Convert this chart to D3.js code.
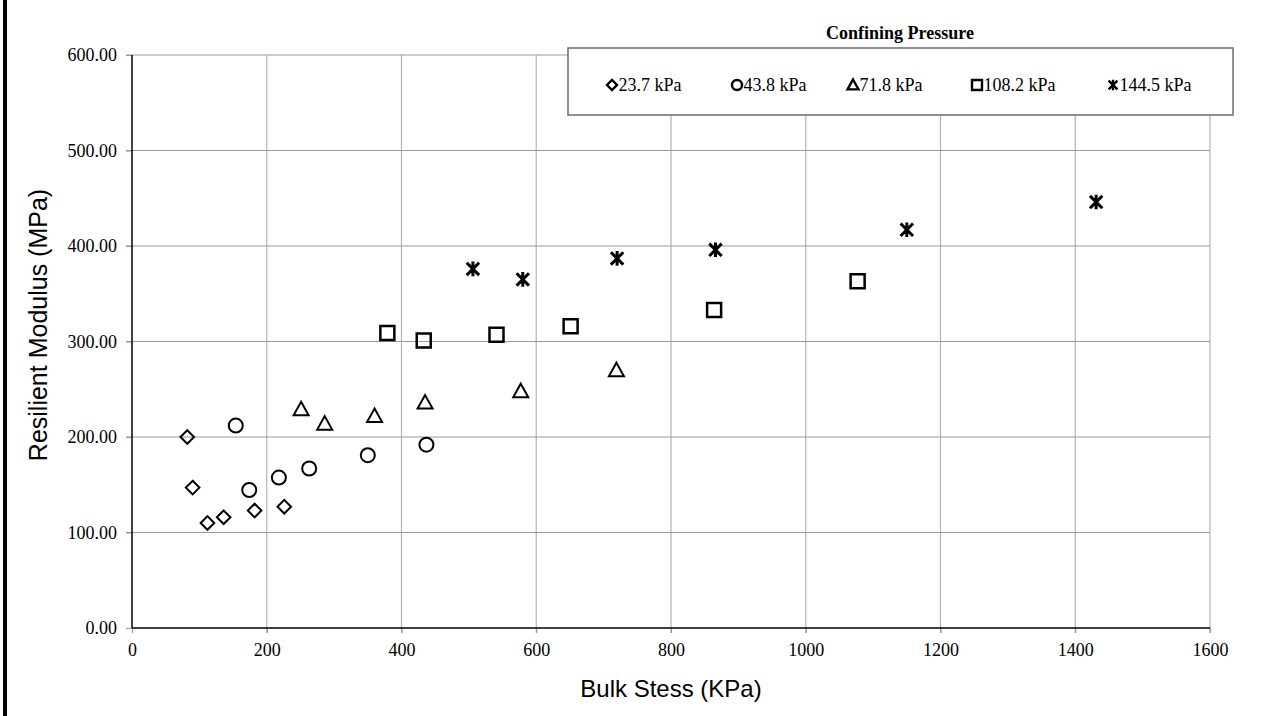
<!DOCTYPE html>
<html>
<head>
<meta charset="utf-8">
<script src="https://cdn.jsdelivr.net/npm/d3@7/dist/d3.min.js"></script>
<style>
  html, body { margin: 0; padding: 0; background: #fff; }
  svg { display: block; }
</style>
</head>
<body>
<svg id="chart" width="1264" height="716"></svg>
<script>
// ---- data ----
const seriesNames = ["23.7 kPa", "43.8 kPa", "71.8 kPa", "108.2 kPa", "144.5 kPa"];
const markerTypes = ["diamond", "circle", "triangle", "square", "star"];
const bulk_23_7 = [82, 90, 112, 136, 182, 226];
const mr_23_7   = [200, 147, 110, 116, 123, 127];
const bulk_43_8 = [154, 174, 218, 263, 350, 437];
const mr_43_8   = [212, 144.5, 157.5, 167, 181, 192];
const bulk_71_8 = [251, 286, 360, 435, 577, 719];
const mr_71_8   = [229, 214, 222, 236, 248, 270];
const bulk_108_2 = [379, 433, 541, 651, 864, 1077];
const mr_108_2   = [309, 301, 307, 316, 333, 363];
const bulk_144_5 = [506, 580, 720, 866, 1150, 1431];
const mr_144_5   = [376, 365, 387, 396, 417, 446];
const xTicks = [0, 200, 400, 600, 800, 1000, 1200, 1400, 1600];
const yTicks = [0, 100, 200, 300, 400, 500, 600];

const series = [
  { name: seriesNames[0], type: markerTypes[0], x: bulk_23_7, y: mr_23_7 },
  { name: seriesNames[1], type: markerTypes[1], x: bulk_43_8, y: mr_43_8 },
  { name: seriesNames[2], type: markerTypes[2], x: bulk_71_8, y: mr_71_8 },
  { name: seriesNames[3], type: markerTypes[3], x: bulk_108_2, y: mr_108_2 },
  { name: seriesNames[4], type: markerTypes[4], x: bulk_144_5, y: mr_144_5 }
];

// ---- layout ----
const L = 132, R = 1210, T = 55, B = 628;
const svg = d3.select("#chart");
const x = d3.scaleLinear().domain([0, 1600]).range([L, R]);
const y = d3.scaleLinear().domain([0, 600]).range([B, T]);
const serif = "'Liberation Serif', 'Times New Roman', serif";
const sans = "'Liberation Sans', Arial, sans-serif";

// left black bar
svg.append("rect").attr("x", 3).attr("y", 0).attr("width", 4).attr("height", 716).attr("fill", "#000");

// gridlines
const grid = svg.append("g");
grid.selectAll("line.v").data(xTicks.slice(1)).join("line")
  .attr("x1", d => x(d)).attr("x2", d => x(d))
  .attr("y1", T).attr("y2", B + 5)
  .attr("stroke", "#b4b4b4").attr("stroke-width", 1.2);
grid.selectAll("line.h").data(yTicks.slice(1)).join("line")
  .attr("x1", L - 6).attr("x2", R)
  .attr("y1", d => y(d)).attr("y2", d => y(d))
  .attr("stroke", "#9a9a9a").attr("stroke-width", 1.2);

// axes
const xAxis = d3.axisBottom(x).tickValues(xTicks).tickSize(5).tickPadding(10).tickFormat(d3.format("d"));
const gx = svg.append("g").attr("transform", `translate(0,${B})`).call(xAxis);
gx.select(".domain").remove();
gx.selectAll(".tick line").attr("stroke", "#9a9a9a").attr("stroke-width", 1.2);
gx.selectAll(".tick text").attr("font-family", serif).attr("font-size", 18).attr("fill", "#000");

const yAxis = d3.axisLeft(y).tickValues(yTicks).tickSize(6).tickPadding(9).tickFormat(d3.format(".2f"));
const gy = svg.append("g").attr("transform", `translate(${L},0)`).call(yAxis);
gy.select(".domain").remove();
gy.selectAll(".tick line").attr("stroke", "#9a9a9a").attr("stroke-width", 1.2);
gy.selectAll(".tick text").attr("font-family", serif).attr("font-size", 18).attr("fill", "#000");

// axis lines
svg.append("line").attr("x1", L).attr("x2", L).attr("y1", T).attr("y2", B).attr("stroke", "#000").attr("stroke-width", 1.5);
svg.append("line").attr("x1", L).attr("x2", R).attr("y1", B).attr("y2", B).attr("stroke", "#000").attr("stroke-width", 1.5);

// axis titles
svg.append("text").attr("x", x(800)).attr("y", 697).attr("text-anchor", "middle")
  .attr("font-family", sans).attr("font-size", 24).attr("fill", "#000").text("Bulk Stess (KPa)");
svg.append("text").attr("transform", `translate(47,325) rotate(-90)`).attr("text-anchor", "middle")
  .attr("font-family", sans).attr("font-size", 25).attr("fill", "#000").text("Resilient Modulus (MPa)");

// marker path generator (size = half-extent)
function markerPath(type, s) {
  const p = d3.path();
  if (type === "diamond") {
    p.moveTo(0, -s); p.lineTo(s, 0); p.lineTo(0, s); p.lineTo(-s, 0); p.closePath();
  } else if (type === "circle") {
    p.arc(0, 0, s, 0, 2 * Math.PI); p.closePath();
  } else if (type === "triangle") {
    p.moveTo(0, -s); p.lineTo(s, s * 0.8); p.lineTo(-s, s * 0.8); p.closePath();
  } else if (type === "square") {
    p.rect(-s, -s, 2 * s, 2 * s);
  } else if (type === "star") {
    const k = s * 0.85;
    p.moveTo(-k, -k); p.lineTo(k, k);
    p.moveTo(k, -k); p.lineTo(-k, k);
    p.moveTo(0, -s); p.lineTo(0, s);
  }
  return p.toString();
}
const plotSize = { diamond: 6.8, circle: 7, triangle: 7.5, square: 7, star: 7.3 };
const plotStroke = { diamond: 2, circle: 2, triangle: 2, square: 2.5, star: 3 };

// points
series.forEach(s => {
  const pts = s.x.map((v, i) => [v, s.y[i]]);
  svg.append("g").selectAll("path").data(pts).join("path")
    .attr("transform", d => `translate(${x(d[0])},${y(d[1])})`)
    .attr("d", markerPath(s.type, plotSize[s.type]))
    .attr("fill", "none").attr("stroke", "#000")
    .attr("stroke-width", plotStroke[s.type]);
});

// legend
svg.append("text").attr("x", 900).attr("y", 39).attr("text-anchor", "middle")
  .attr("font-family", serif).attr("font-weight", "bold").attr("font-size", 18).attr("fill", "#000")
  .text("Confining Pressure");
svg.append("rect").attr("x", 568).attr("y", 48).attr("width", 665).attr("height", 67)
  .attr("fill", "#fff").attr("stroke", "#6e6e6e").attr("stroke-width", 1.5);
const legSize = { diamond: 5, circle: 5, triangle: 5.5, square: 5, star: 5.2 };
const legMarkX = [612, 737, 853, 977, 1113];
series.forEach((s, i) => {
  const g = svg.append("g").attr("transform", `translate(${legMarkX[i]},85)`);
  g.append("path").attr("d", markerPath(s.type, legSize[s.type]))
    .attr("fill", "none").attr("stroke", "#000").attr("stroke-width", 2.4);
  g.append("text").attr("x", 6.5).attr("y", 6).attr("font-family", serif).attr("font-size", 18)
    .attr("fill", "#000").text(s.name);
});
</script>
</body>
</html>
